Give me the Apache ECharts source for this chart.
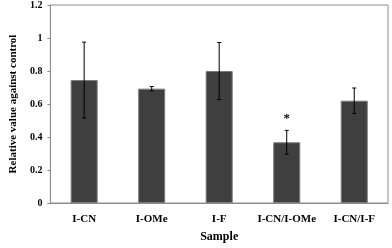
<!DOCTYPE html>
<html><head><meta charset="utf-8">
<script src="https://cdn.jsdelivr.net/npm/echarts@6/dist/echarts.min.js"></script>
<style>html,body{margin:0;padding:0;background:#fff}#c{width:392px;height:248px}</style>
</head><body><div id="c"></div>
<script>
var categories = ['I-CN', 'I-OMe', 'I-F', 'I-CN/I-OMe', 'I-CN/I-F'];
var values = [0.745, 0.693, 0.800, 0.368, 0.620];
var errors = [0.230, 0.013, 0.173, 0.072, 0.077];
var marks = ['', '', '', '*', ''];
var yTicks = [0, 0.2, 0.4, 0.6, 0.8, 1, 1.2];

var font = 'Liberation Serif, Times New Roman, serif';
var chart = echarts.init(document.getElementById('c'), null, {renderer: 'canvas'});
var errData = categories.map(function (c, i) { return [i, values[i], errors[i], marks[i]]; });
chart.setOption({
  animation: false,
  grid: {left: 46, right: 4, top: 5, bottom: 42, show: true, borderColor: '#8c8c8c', borderWidth: 1},
  xAxis: {
    type: 'category', data: categories, name: 'Sample', nameLocation: 'middle', nameGap: 28,
    nameTextStyle: {fontFamily: font, fontWeight: 'bold', fontSize: 12, color: '#000'},
    axisLine: {lineStyle: {color: '#8c8c8c'}},
    axisTick: {alignWithLabel: true, length: 4, lineStyle: {color: '#8c8c8c'}},
    axisLabel: {interval: 0, fontFamily: font, fontWeight: 'bold', fontSize: 11, color: '#000', margin: 11}
  },
  yAxis: {
    type: 'value', min: 0, max: 1.2, interval: 0.2,
    name: 'Relative value against control', nameLocation: 'middle', nameGap: 31,
    nameTextStyle: {fontFamily: font, fontWeight: 'bold', fontSize: 11, color: '#000'},
    axisLine: {show: true, lineStyle: {color: '#8c8c8c'}},
    axisTick: {show: true, length: 3, lineStyle: {color: '#8c8c8c'}},
    splitLine: {show: false},
    axisLabel: {fontFamily: font, fontWeight: 'bold', fontSize: 10, color: '#000', margin: 8,
      formatter: function (v) { return String(Math.round(v * 10) / 10); }}
  },
  series: [{
    type: 'bar', data: values, barWidth: '40%',
    itemStyle: {color: '#3f3f3f', borderColor: '#7a7a7a', borderWidth: 1}
  }, {
    type: 'custom', data: errData, z: 5,
    renderItem: function (params, api) {
      var x = api.value(0), v = api.value(1), e = api.value(2);
      var hi = api.coord([x, v + e]), lo = api.coord([x, v - e]);
      var cap = 2;
      var children = [
        {type: 'line', shape: {x1: hi[0], y1: hi[1], x2: lo[0], y2: lo[1]}, style: {stroke: '#000', lineWidth: 1}},
        {type: 'line', shape: {x1: hi[0] - cap, y1: hi[1], x2: hi[0] + cap, y2: hi[1]}, style: {stroke: '#000', lineWidth: 1}},
        {type: 'line', shape: {x1: lo[0] - cap, y1: lo[1], x2: lo[0] + cap, y2: lo[1]}, style: {stroke: '#000', lineWidth: 1}}
      ];
      var m = errData[params.dataIndex][3];
      if (m) {
        children.push({type: 'text', style: {text: m, x: hi[0], y: hi[1] - 5, align: 'center', verticalAlign: 'bottom',
          font: 'bold 13px ' + font, fill: '#000'}});
      }
      return {type: 'group', children: children};
    }
  }]
});
</script></body></html>
